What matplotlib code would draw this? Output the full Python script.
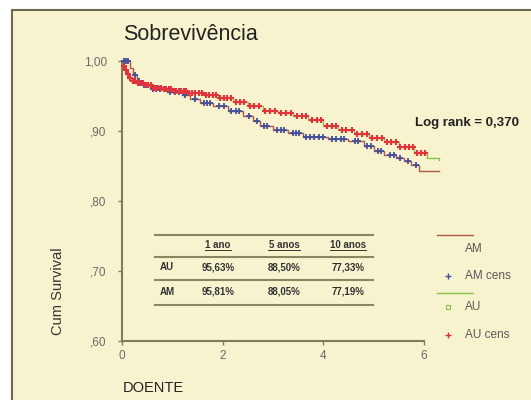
import numpy as np
import matplotlib.pyplot as plt
from matplotlib.lines import Line2D

plt.rcParams['font.family'] = ['Liberation Sans', 'DejaVu Sans']

# ============================================================
# Data
# ============================================================
au_t = [0, 0.03, 0.06, 0.10, 0.15, 0.20, 0.30, 0.45, 0.60, 0.80, 1.00, 1.30, 1.60,
        1.90, 2.20, 2.50, 2.80, 3.10, 3.40, 3.70, 4.00, 4.30, 4.60, 4.90, 5.20,
        5.50, 5.80, 6.06, 6.30]
au_s = [1.000, 0.993, 0.987, 0.981, 0.976, 0.972, 0.968, 0.965, 0.962, 0.960, 0.957,
        0.954, 0.951, 0.947, 0.941, 0.935, 0.928, 0.925, 0.922, 0.916, 0.907, 0.902,
        0.896, 0.890, 0.884, 0.877, 0.869, 0.862, 0.858]
au_cens = [0.04, 0.08, 0.12, 0.16, 0.22, 0.26, 0.32, 0.36, 0.42, 0.48, 0.52, 0.58,
           0.63, 0.68, 0.72, 0.78, 0.83, 0.88, 0.93, 0.98, 1.04, 1.08, 1.14, 1.18,
           1.24, 1.28, 1.34, 1.40, 1.46, 1.52, 1.58, 1.66, 1.72, 1.80, 1.86, 1.94,
           2.02, 2.08, 2.16, 2.26, 2.34, 2.42, 2.54, 2.62, 2.72, 2.84, 2.94, 3.04,
           3.16, 3.26, 3.36, 3.48, 3.58, 3.66, 3.78, 3.88, 3.96, 4.08, 4.18, 4.26,
           4.38, 4.46, 4.56, 4.66, 4.76, 4.86, 4.96, 5.06, 5.16, 5.26, 5.34, 5.44,
           5.52, 5.62, 5.70, 5.78, 5.86, 5.94, 6.02]

am_t = [0, 0.15, 0.22, 0.30, 0.40, 0.55, 0.90, 1.20, 1.35, 1.55, 1.80, 2.10, 2.40,
        2.60, 2.75, 3.00, 3.30, 3.60, 4.10, 4.50, 4.80, 5.00, 5.20, 5.45, 5.60,
        5.75, 5.90, 6.30]
am_s = [1.000, 0.990, 0.980, 0.972, 0.965, 0.960, 0.956, 0.952, 0.946, 0.940, 0.935,
        0.929, 0.922, 0.914, 0.907, 0.902, 0.897, 0.891, 0.888, 0.885, 0.878, 0.871,
        0.866, 0.862, 0.857, 0.851, 0.843, 0.843]
am_cens = [0.04, 0.08, 0.12, 0.26, 0.34, 0.44, 0.50, 0.62, 0.68, 0.76, 0.84, 0.96,
           1.06, 1.14, 1.26, 1.45, 1.62, 1.68, 1.74, 1.92, 2.02, 2.16, 2.26, 2.32,
           2.52, 2.68, 2.82, 2.88, 3.08, 3.16, 3.22, 3.40, 3.46, 3.52, 3.66, 3.74,
           3.82, 3.92, 4.00, 4.18, 4.26, 4.36, 4.42, 4.62, 4.68, 4.86, 4.94, 5.08,
           5.14, 5.32, 5.40, 5.52, 5.68, 5.84]

x_ticks = [0, 2, 4, 6]
y_ticks = [0.60, 0.70, 0.80, 0.90, 1.00]
y_tick_labels = [",60", ",70", ",80", ",90", "1,00"]

table_cols = ["1 ano", "5 anos", "10 anos"]
table_rows = ["AU", "AM"]
table_vals = [["95,63%", "88,50%", "77,33%"],
              ["95,81%", "88,05%", "77,19%"]]

legend_labels = ["AM", "AM cens", "AU", "AU cens"]

BG = "#f8f3cf"
AXC = "#7d7a5f"
RED = "#e2323a"
BLUE = "#42509a"
GREEN = "#86c04a"
BROWN = "#b0584a"


def step_at(t, s, x):
    i = np.searchsorted(t, x, side="right") - 1
    return np.asarray(s)[i]


# ============================================================
# Figure
# ============================================================
fig = plt.figure(figsize=(5.31, 4.0), dpi=100)
fig.patch.set_facecolor("white")

# cream panel with border
panel = plt.Rectangle((12 / 531, -0.01), 1.05, 1 - 10 / 400 + 0.01,
                      transform=fig.transFigure, facecolor=BG,
                      edgecolor="#6b6a50", linewidth=1.5, zorder=-10)
fig.add_artist(panel)

ax = fig.add_axes([122 / 531, 59 / 400, 319.6 / 531, 283.5 / 400])
ax.set_facecolor("none")
ax.set_xlim(0, 6.35)
ax.set_ylim(0.6, 1.005)

ax.step(am_t, am_s, where="post", color=BROWN, lw=1.0, clip_on=False, zorder=2)
ax.step(au_t, au_s, where="post", color=GREEN, lw=1.0, clip_on=False, zorder=2)
ax.plot(am_cens, step_at(am_t, am_s, am_cens), ls="none", marker="+",
        color=BLUE, ms=4, mew=1.3, clip_on=False, zorder=3)
ax.plot(au_cens, step_at(au_t, au_s, au_cens), ls="none", marker="+",
        color=RED, ms=4.5, mew=1.5, clip_on=False, zorder=4)

for side in ["top", "right"]:
    ax.spines[side].set_visible(False)
for side in ["left", "bottom"]:
    ax.spines[side].set_color(AXC)
    ax.spines[side].set_linewidth(1.5)
ax.spines["bottom"].set_bounds(0, 6)
ax.spines["left"].set_bounds(0.6, 1.0)

ax.set_xticks(x_ticks)
ax.set_xticklabels([str(v) for v in x_ticks])
ax.set_yticks(y_ticks)
ax.set_yticklabels(y_tick_labels)
ax.tick_params(colors=AXC, labelcolor="#6a6a6a", labelsize=8.5, length=3, width=1)
ax.tick_params(axis="y", pad=8)

fig.text(58 / 531, 1 - 291 / 400, "Cum Survival", fontsize=10.5, color="#333333",
         rotation=90, ha="center", va="center")
fig.text(123 / 531, 1 - 35 / 400, "Sobrevivência", fontsize=15.5,
         color="#222222", va="center")
fig.text(123 / 531, 1 - 388 / 400, "DOENTE", fontsize=10.5, color="#222222",
         va="center")
fig.text(415 / 531, 1 - 123 / 400, "Log rank = 0,370", fontsize=9.5,
         fontweight="bold", color="#222222", va="center")

# table
tx0, tx1 = 155 / 531, 373 / 531
for yp in [235, 257, 280, 305]:
    fig.add_artist(Line2D([tx0, tx1], [1 - yp / 400] * 2, color="#8a8560", lw=1.5))
col_x = [218, 284, 348]
for cx, lab in zip(col_x, table_cols):
    fig.text(cx / 531, 1 - 245 / 400, lab, fontsize=7, fontweight="bold",
             color="#333333", ha="center", va="center")
    w = len(lab) * 5.2
    fig.add_artist(Line2D([(cx - w / 2) / 531, (cx + w / 2) / 531],
                          [1 - 250 / 400] * 2, color="#333333", lw=0.7))
for ry, rl, vals in zip([267, 292], table_rows, table_vals):
    fig.text(160 / 531, 1 - ry / 400, rl, fontsize=7, fontweight="bold",
             color="#333333", va="center")
    for cx, v in zip(col_x, vals):
        fig.text(cx / 531, 1 - ry / 400, v, fontsize=7, fontweight="bold",
                 color="#333333", ha="center", va="center")

# legend (SPSS style)
fig.add_artist(Line2D([437 / 531, 473 / 531], [1 - 235 / 400] * 2, color=BROWN, lw=1))
fig.add_artist(Line2D([448 / 531], [1 - 276 / 400], marker="+", color=BLUE, ms=4, mew=1))
fig.add_artist(Line2D([437 / 531, 473 / 531], [1 - 293 / 400] * 2, color=GREEN, lw=1))
fig.add_artist(Line2D([448 / 531], [1 - 307 / 400], marker="s", mfc="none",
                      mec=GREEN, ms=3, mew=0.8))
fig.add_artist(Line2D([448 / 531], [1 - 335 / 400], marker="+", color=RED, ms=4, mew=1))
for yp, lab in zip([249, 276, 307, 335], legend_labels):
    fig.text(465 / 531, 1 - yp / 400, lab, fontsize=8.5, color="#5a5a5a", va="center")

fig.savefig("out.png", dpi=100, facecolor=fig.get_facecolor())
